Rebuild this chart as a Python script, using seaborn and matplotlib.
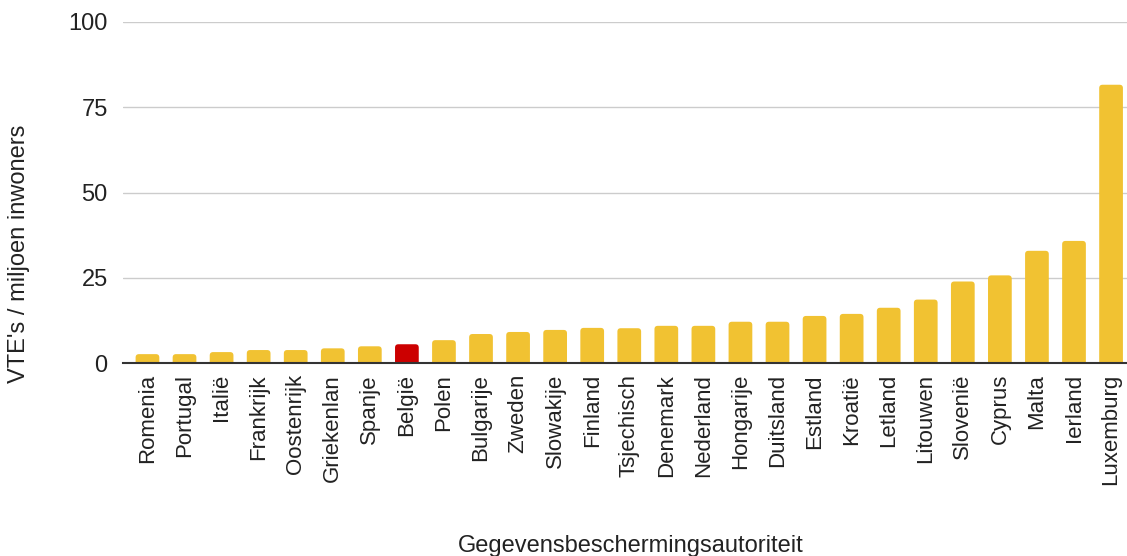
import matplotlib
matplotlib.use("Agg")
import matplotlib.pyplot as plt
from matplotlib.patches import FancyBboxPatch
import seaborn as sns
import pandas as pd

landen = ["Romenia", "Portugal", "Italië", "Frankrijk", "Oostenrijk", "Griekenlan",
          "Spanje", "België", "Polen", "Bulgarije", "Zweden", "Slowakije", "Finland",
          "Tsjechisch", "Denemark", "Nederland", "Hongarije", "Duitsland", "Estland",
          "Kroatië", "Letland", "Litouwen", "Slovenië", "Cyprus", "Malta", "Ierland",
          "Luxemburg"]
vte_per_miljoen = [2.6, 2.6, 3.2, 3.8, 3.8, 4.3, 4.9, 5.5, 6.7, 8.5, 9.1, 9.7, 10.3,
                   10.2, 10.9, 10.9, 12.1, 12.1, 13.8, 14.4, 16.2, 18.6, 23.9, 25.7,
                   32.9, 35.8, 81.6]
highlight = "België"

df = pd.DataFrame({"land": landen, "vte": vte_per_miljoen})
df["kleur"] = ["rood" if l == highlight else "geel" for l in df["land"]]

sns.set_style("white")
plt.rcParams["font.family"] = ["Liberation Sans", "DejaVu Sans"]

fig = plt.figure(figsize=(11.27, 5.56), dpi=100)
ax = fig.add_axes([123 / 1127, 1 - 363 / 556, 1004 / 1127, 341 / 556])

sns.barplot(data=df, x="land", y="vte", hue="kleur",
            palette={"geel": "#F1C232", "rood": "#CC0000"},
            width=0.64, legend=False, saturation=1, ax=ax, zorder=3)

ax.set_ylim(0, 100)
ax.set_yticks([0, 25, 50, 75, 100])
ax.set_xlim(-0.66, 26.43)

# rounded tops (swap the plain rectangles for rounded boxes)
aspect = (100 / 341) / (27.09 / 1004)
for p in list(ax.patches):
    x, y0 = p.get_x(), p.get_y()
    w, h = p.get_width(), p.get_height()
    rb = FancyBboxPatch((x, y0 - 2), w, h + 2,
                        boxstyle="round,pad=0,rounding_size=0.09",
                        mutation_aspect=aspect, facecolor=p.get_facecolor(),
                        edgecolor="none", zorder=3)
    p.remove()
    ax.add_patch(rb)

ax.grid(axis="y", color="#cccccc", linewidth=1, zorder=0)
for side in ["top", "right", "left"]:
    ax.spines[side].set_visible(False)
ax.spines["bottom"].set_color("#333333")
ax.spines["bottom"].set_linewidth(1.5)
ax.spines["bottom"].set_zorder(4)

ax.tick_params(axis="y", length=7, color="#cccccc", labelsize=17, labelcolor="#222222", pad=4)
ax.tick_params(axis="x", length=0, labelsize=16, labelcolor="#222222", pad=8)
plt.setp(ax.get_xticklabels(), rotation=90)

ax.set_xlabel("Gegevensbeschermingsautoriteit", fontsize=17, color="#222222")
ax.xaxis.set_label_coords(508 / 1004, -172 / 341)
ax.set_ylabel("VTE's / miljoen inwoners", fontsize=17, color="#222222")
ax.yaxis.set_label_coords(-93 / 1004, 0.32)

fig.savefig("out.png", dpi=100)
